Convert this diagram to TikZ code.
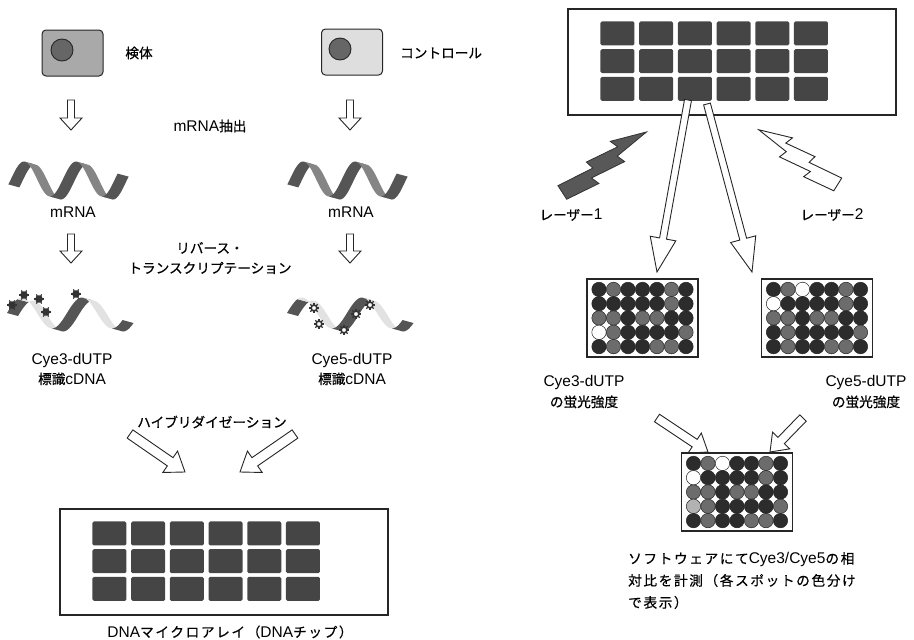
\documentclass[tikz,border=0pt]{standalone}
\usepackage{fontspec}
\setmainfont{Liberation Sans}
\newfontfamily\jp{Noto Sans CJK JP}[Scale=0.88, FakeBold=0.6]
\newfontfamily\jpwide{Noto Sans CJK JP}[Scale=0.88, FakeBold=0.6, LetterSpace=12]
\usetikzlibrary{calc}

\newcommand{\J}[1]{{\jp #1}}
\newcommand{\JW}[1]{{\jpwide #1}}

\definecolor{cellsample}{HTML}{A9A9A9}
\definecolor{cellcontrol}{HTML}{DEDEDE}
\definecolor{nucleusgray}{HTML}{666666}
\definecolor{blockgray}{HTML}{454545}
\definecolor{rnadark}{HTML}{555555}
\definecolor{rnamid}{HTML}{858585}
\definecolor{rnapale}{HTML}{E2E2E2}
\definecolor{sD}{HTML}{2C2C2C}
\definecolor{sM}{HTML}{6C6C6C}
\definecolor{sL}{HTML}{B2B2B2}
\definecolor{sW}{HTML}{FFFFFF}
\definecolor{boltgray}{HTML}{585858}

\tikzset{
  lbl/.style={font=\fontsize{15.5}{20}\selectfont, inner sep=0pt, align=center},
  cellbox/.style={draw=black!85, line width=1pt, rounded corners=4pt,
    minimum width=61pt, minimum height=46pt},
  nucleus/.style={circle, draw=black!85, line width=0.9pt, fill=nucleusgray,
    minimum size=22pt, inner sep=0pt},
  chip/.style={draw=black!85, line width=1.1pt, minimum width=328pt,
    minimum height=106pt, inner sep=0pt},
  spotframe/.style={draw=black!85, line width=1.1pt, minimum width=111pt,
    minimum height=78pt, inner sep=0pt},
  hollow/.style={draw=black!85, line width=0.9pt, fill=white},
  dyedot/.pic={
    \foreach \a in {0,60,...,300} \draw[black!80, line width=1.1pt] (\a:2.5) -- (\a:5.3);
    \fill[black!80] (0,0) circle (3.8);
  },
  dyering/.pic={
    \foreach \a in {0,45,...,315} \draw[black!80, line width=1.1pt] (\a:2.5) -- (\a:5.2);
    \draw[black!80, line width=1.6pt, fill=white] (0,0) circle (2.9);
  },
  bolt/.pic={
    \path[pic actions] (0,8) -- (33,12) -- (30,4) -- (64,8) -- (61,0) -- (96,-4)
      -- (63,-15) -- (66,-7) -- (34,-11) -- (36,-3) -- (0,-7) -- cycle;
  }
}

% open block arrow: from, to, half shaft, half head, head length
\newcommand{\fatarrow}[5]{%
  \coordinate (fa-h) at ($(#2)!#5!(#1)$);
  \draw[hollow] ($(#1)!#3!90:(#2)$) -- ($(fa-h)!#3!-90:(#1)$)
    -- ($(fa-h)!#4!-90:(#1)$) -- (#2) -- ($(fa-h)!#4!90:(#1)$)
    -- ($(fa-h)!#3!90:(#1)$) -- ($(#1)!#3!-90:(#2)$) -- cycle;}

% twisted strand: first peak x, centre y, half period, amplitude, pieces u0/u1/colour
\newcommand{\rnawave}[5]{%
  \foreach \ua/\ub/\col in {#5} {
    \fill[\col] plot[domain=\ua:\ub, samples=16, smooth, variable=\u]
        ({#1+#3*\u}, {#2-#4*cos(180*\u)})
      -- plot[domain=\ub:\ua, samples=16, smooth, variable=\u]
        ({#1+#3*\u+11}, {#2+3-#4*cos(180*\u)}) -- cycle;
  }}

% 6 x 3 spot blocks on a chip
\newcommand{\chipblocks}[1]{%
  \foreach \i in {0,...,5}
    \foreach \j in {0,...,2}
      \fill[blockgray, rounded corners=1.5pt]
        ($(#1.north west)+({33+38.7*\i},{13+27.7*\j})$) rectangle ++(34,24);}

% 7 x 5 scanned spots, one code per spot
\newcommand{\spotgrid}[2]{%
  \foreach \row [count=\r] in {#2}
    \foreach \c [count=\k] in \row
      \draw[black!85, line width=0.5pt, fill=s\c]
        ($(#1.center)+({(\k-4)*14.5},{(\r-3)*14.3})$) circle (7.2);}

\begin{document}
\begin{tikzpicture}[x=1pt, y=-1pt]
\useasboundingbox (0,0) rectangle (914,640);

% cells
\node[cellbox, fill=cellsample] (sample) at (72.5,53) {};
\node[nucleus] (sampleNuc) at (62,50) {};
\node[lbl] (sampleLbl) at (139,53) {\J{検体}};
\node[cellbox, fill=cellcontrol] (control) at (352,52) {};
\node[nucleus] (controlNuc) at (340,49) {};
\node[lbl, anchor=west] (controlLbl) at (400,53) {\J{コントロール}};

% extraction
\coordinate (sampleA1) at (71,100);
\coordinate (sampleA2) at (71,130);
\coordinate (controlA1) at (350,100);
\coordinate (controlA2) at (350,130);
\fatarrow{sampleA1}{sampleA2}{3.5pt}{11pt}{12pt}
\fatarrow{controlA1}{controlA2}{3.5pt}{11pt}{12pt}
\node[lbl] (extractLbl) at (210,126) {mRNA\J{抽出}};

% mRNA strands
\rnawave{24}{179}{26}{17.5}{-0.6/0/rnadark, 0/1/rnamid, 1/2/rnadark, 2/3/rnamid, 3/3.6/rnadark}
\rnawave{303}{179}{26}{17.5}{-0.6/0/rnadark, 0/1/rnamid, 1/2/rnadark, 2/3/rnamid, 3/3.6/rnadark}
\node[lbl] (sampleRna) at (73,212) {mRNA};
\node[lbl] (controlRna) at (351,212) {mRNA};

% reverse transcription
\coordinate (sampleB1) at (71,234);
\coordinate (sampleB2) at (71,263);
\coordinate (controlB1) at (350,234);
\coordinate (controlB2) at (350,263);
\fatarrow{sampleB1}{sampleB2}{3.5pt}{11pt}{12pt}
\fatarrow{controlB1}{controlB2}{3.5pt}{11pt}{12pt}
\node[lbl] (rtLbl) at (210,258) {\J{リバース・}\\\J{トランスクリプテーション}};

% labelled cDNA
\rnawave{22}{313}{30}{15.5}{-0.5/-0.15/rnadark, -0.15/1/rnapale, 1/2/rnadark, 2/3/rnapale, 3/3.35/rnadark}
\rnawave{302}{313}{30}{15.5}{-0.5/-0.15/rnadark, -0.15/1/rnapale, 1/2/rnadark, 2/3/rnapale, 3/3.35/rnadark}
\foreach \p in {(12,305), (24,295), (39,299), (46,312), (76,294)}
  \pic at \p {dyedot};
\foreach \p in {(314,308), (319,324), (344,330), (356,314), (370,305)}
  \pic at \p {dyering};
\node[lbl] (cy3Lbl) at (72,369) {Cye3-dUTP\\\J{標識}cDNA};
\node[lbl] (cy5Lbl) at (352,369) {Cye5-dUTP\\\J{標識}cDNA};

% hybridization onto the chip
\node[lbl] (hybLbl) at (212,422) {\J{ハイブリダイゼーション}};
\coordinate (hybA1) at (130,434);
\coordinate (hybA2) at (185,472);
\coordinate (hybB1) at (295,434);
\coordinate (hybB2) at (240,472);
\fatarrow{hybA1}{hybA2}{5pt}{13pt}{18pt}
\fatarrow{hybB1}{hybB2}{5pt}{13pt}{18pt}
\node[chip] (chipBottom) at (224,562) {};
\chipblocks{chipBottom}
\node[lbl] (chipLbl) at (230,632) {DNA\JW{マイクロアレイ（}DNA\JW{チップ）}};

% scanning
\node[chip] (chipTop) at (732,62) {};
\chipblocks{chipTop}
\pic[fill=boltgray, draw=black!80, line width=0.8pt, rotate=33, scale=1.08] (laserA) at (562,192) {bolt};
\pic[fill=white, draw=black!85, line width=0.9pt, rotate=148, yscale=-1] (laserB) at (838,184) {bolt};
\node[lbl] (laserALbl) at (571,215) {\J{レーザー}1};
\node[lbl] (laserBLbl) at (832,215) {\J{レーザー}2};
\coordinate (scanA1) at (688,100);
\coordinate (scanA2) at (657,272);
\coordinate (scanB1) at (707,104);
\coordinate (scanB2) at (752,272);
\fatarrow{scanA1}{scanA2}{3.5pt}{13pt}{34pt}
\fatarrow{scanB1}{scanB2}{3.5pt}{13pt}{34pt}

% fluorescence read-outs
\node[spotframe] (scanCy3) at (642.5,318) {};
\spotgrid{scanCy3}{{D,M,D,D,D,M,D},{D,D,D,D,D,M,D},{M,M,D,M,M,D,D},{W,M,D,D,D,D,M},{D,M,D,D,M,M,D}}
\node[spotframe] (scanCy5) at (817,318) {};
\spotgrid{scanCy5}{{D,M,W,D,D,M,D},{W,D,D,D,D,M,D},{M,M,D,M,M,D,D},{D,M,D,D,D,D,M},{D,M,D,D,M,M,D}}
\node[lbl] (cy3Int) at (584,392) {Cye3-dUTP\\\J{の蛍光強度}};
\node[lbl] (cy5Int) at (866,392) {Cye5-dUTP\\\J{の蛍光強度}};

% ratio
\coordinate (ratioA1) at (657,418);
\coordinate (ratioA2) at (708,452);
\coordinate (ratioB1) at (803,418);
\coordinate (ratioB2) at (770,452);
\fatarrow{ratioA1}{ratioA2}{4.5pt}{12pt}{16pt}
\fatarrow{ratioB1}{ratioB2}{4.5pt}{12pt}{16pt}
\node[spotframe] (ratio) at (737,492) {};
\spotgrid{ratio}{{D,M,W,D,D,M,D},{W,D,D,D,D,M,D},{M,M,D,M,M,D,D},{L,M,D,D,D,D,M},{D,M,D,D,M,M,D}}
\node[lbl, font=\fontsize{15.5}{22}\selectfont, align=left, anchor=north west] (ratioLbl) at (628,552)
  {\JW{ソフトウェアにて}Cye3/Cye5\JW{の相}\\\JW{対比を計測（各スポットの色分け}\\\JW{で表示）}};
\end{tikzpicture}
\end{document}
